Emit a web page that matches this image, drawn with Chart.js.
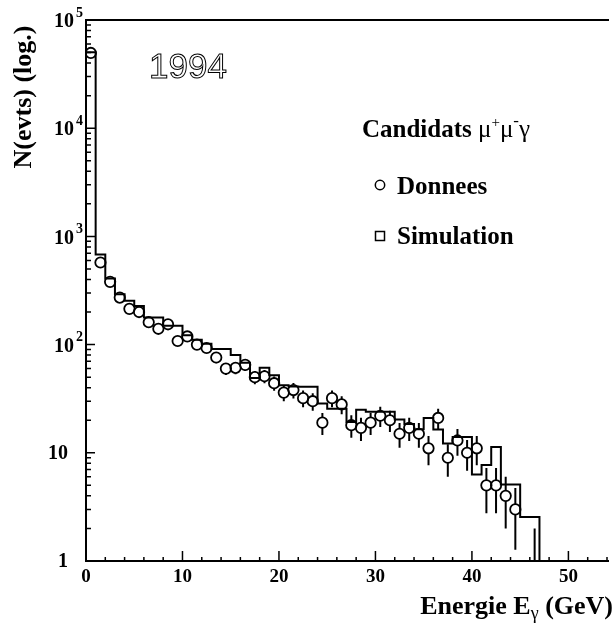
<!DOCTYPE html>
<html>
<head>
<meta charset="utf-8">
<title>Energie E_gamma - 1994</title>
<script src="https://cdn.jsdelivr.net/npm/chart.js@4.4.1/dist/chart.umd.min.js"></script>
<style>
  html, body { margin: 0; padding: 0; background: #fff; }
  #spectre { display: block; }
</style>
</head>
<body>
<canvas id="spectre" width="614" height="631"></canvas>
<script>
// Bornes basses des intervalles de 1 GeV
const binLow = [0, 1, 2, 3, 4, 5, 6, 7, 8, 9, 10, 11, 12, 13, 14, 15, 16, 17, 18, 19,
  20, 21, 22, 23, 24, 25, 26, 27, 28, 29, 30, 31, 32, 33, 34, 35, 36, 37, 38, 39,
  40, 41, 42, 43, 44, 45, 46];
const binWidth = 1;

// Nombre d'evenements par intervalle
const donnees = [49600, 574, 380, 272, 214, 200, 161, 140, 154, 108,
  119, 100, 93, 76, 60, 61, 65, 50, 51, 44,
  36, 38, 32, 30, 19, 32, 28, 18, 17, 19,
  22, 20, 15, 17, 15, 11, 21, 9, 13, 10,
  11, 5, 5, 4, 3, 0, 1];
const simulation = [50400, 680, 409, 292, 254, 227, 178, 178, 149, 149,
  122, 111, 102, 91, 91, 80, 68, 49, 61, 52,
  42, 41, 40.7, 40.7, 28.5, 25.6, 25.6, 19.3, 25, 24,
  24, 24, 20.3, 18.5, 16.5, 21, 16.4, 12.2, 14, 14,
  6.3, 7.7, 11.3, 5.1, 5.1, 2.55, 2.55];

// Graduations
const xTicks = [0, 10, 20, 30, 40, 50];
const yTicks = [1, 10, 100, 1000, 10000, 100000];
const yTickBase = ['1', '10', '10', '10', '10', '10'];
const yTickExp = ['', '', '2', '3', '4', '5'];

const X_MIN = 0, X_MAX = 54, Y_MIN = 1, Y_MAX = 1e5;
const MARKER_R = 5.2;
const SERIF = '"Liberation Serif", "Times New Roman", serif';

// Points des donnees au centre des intervalles (les intervalles vides ne sont pas tracés)
const pointsDonnees = [];
binLow.forEach((lo, i) => {
  if (donnees[i] > 0) pointsDonnees.push({ x: lo + binWidth / 2, y: donnees[i] });
});

// Histogramme de la simulation : un point par bord gauche, puis retour à zero
const pointsSimu = binLow.map((lo, i) => ({ x: lo, y: simulation[i] }));
pointsSimu.push({ x: binLow[binLow.length - 1] + binWidth, y: Y_MIN });

function markerRadius(ctx) {
  const p = ctx.raw;
  return p && p.y <= Y_MIN ? 0 : MARKER_R;
}

// Barres d'erreur statistiques (racine de N), interrompues au niveau du marqueur
const barresErreur = {
  id: 'barresErreur',
  afterDatasetsDraw(chart) {
    const { ctx, scales: { x, y } } = chart;
    ctx.save();
    ctx.strokeStyle = '#000';
    ctx.lineWidth = 2;
    ctx.beginPath();
    pointsDonnees.forEach(p => {
      const err = Math.sqrt(p.y);
      const px = x.getPixelForValue(p.x);
      const pc = y.getPixelForValue(p.y);
      const pHaut = y.getPixelForValue(p.y + err);
      const pBas = y.getPixelForValue(Math.max(p.y - err, Y_MIN));
      const r = p.y <= Y_MIN ? 0 : MARKER_R;
      if (pc - r > pHaut) { ctx.moveTo(px, pHaut); ctx.lineTo(px, pc - r); }
      if (pBas > pc + r) { ctx.moveTo(px, pc + r); ctx.lineTo(px, pBas); }
    });
    ctx.stroke();
    ctx.restore();
  }
};

// Cadre, graduations internes et etiquettes des axes
const cadre = {
  id: 'cadre',
  afterDraw(chart) {
    const { ctx, chartArea: a, scales: { x, y } } = chart;
    ctx.save();
    ctx.strokeStyle = '#000';
    ctx.fillStyle = '#000';

    ctx.lineWidth = 2;
    ctx.beginPath();
    ctx.moveTo(a.right + 2, a.top);
    ctx.lineTo(a.left, a.top);
    ctx.lineTo(a.left, a.bottom);
    ctx.lineTo(a.right + 2, a.bottom);
    ctx.stroke();

    ctx.lineWidth = 1.5;
    ctx.beginPath();
    for (let v = X_MIN; v <= X_MAX; v += 2) {
      const px = x.getPixelForValue(v);
      const len = v % 10 === 0 ? 10 : 4;
      ctx.moveTo(px, a.bottom);
      ctx.lineTo(px, a.bottom - len);
    }
    for (let k = 0; k < 5; k++) {
      for (let m = 1; m <= 9; m++) {
        const py = y.getPixelForValue(m * Math.pow(10, k));
        ctx.moveTo(a.left, py);
        ctx.lineTo(a.left + (m === 1 ? 9 : 5), py);
      }
    }
    ctx.stroke();

    // etiquettes de l'axe X
    ctx.font = 'bold 19px ' + SERIF;
    ctx.textAlign = 'center';
    ctx.textBaseline = 'alphabetic';
    xTicks.forEach(v => ctx.fillText(String(v), x.getPixelForValue(v), a.bottom + 21));

    // etiquettes de l'axe Y (puissances de 10)
    ctx.textBaseline = 'middle';
    yTicks.forEach((v, i) => {
      const py = y.getPixelForValue(v);
      ctx.font = 'bold 20px ' + SERIF;
      if (yTickExp[i] === '') {
        ctx.textAlign = 'right';
        ctx.fillText(yTickBase[i], a.left - 18, py + 1);
      } else {
        ctx.textAlign = 'right';
        ctx.fillText(yTickBase[i], a.left - 12, py + 2);
        ctx.font = 'bold 14px ' + SERIF;
        ctx.textAlign = 'left';
        ctx.fillText(yTickExp[i], a.left - 10, py - 7);
      }
    });

    // titre de l'axe Y
    ctx.save();
    ctx.translate(24, 97);
    ctx.rotate(-Math.PI / 2);
    ctx.font = 'bold 26px ' + SERIF;
    ctx.textAlign = 'center';
    ctx.textBaseline = 'middle';
    ctx.fillText('N(evts) (log.)', 0, 0);
    ctx.restore();

    // titre de l'axe X : Energie E_gamma (GeV)
    ctx.textAlign = 'left';
    ctx.textBaseline = 'alphabetic';
    const t1 = 'Energie E', t2 = '\u03b3', t3 = ' (GeV)';
    ctx.font = 'bold 26px ' + SERIF;
    const w1 = ctx.measureText(t1).width, w3 = ctx.measureText(t3).width;
    ctx.font = '18px ' + SERIF;
    const w2 = ctx.measureText(t2).width;
    let tx = 613 - (w1 + w2 + w3);
    const ty = 614;
    ctx.font = 'bold 26px ' + SERIF;
    ctx.fillText(t1, tx, ty); tx += w1;
    ctx.font = '18px ' + SERIF;
    ctx.fillText(t2, tx, ty + 5); tx += w2;
    ctx.font = 'bold 26px ' + SERIF;
    ctx.fillText(t3, tx, ty);

    // annee
    ctx.font = '35px "Liberation Sans", Arial, sans-serif';
    ctx.lineWidth = 1;
    ctx.strokeText('1994', 149, 78);

    // legende
    let lx = 362;
    const ly = 137;
    ctx.font = 'bold 25px ' + SERIF;
    ctx.fillText('Candidats ', lx, ly); lx += ctx.measureText('Candidats ').width;
    const morceaux = [
      ['\u03bc', '25px', 0], ['+', '15px', -10], ['\u03bc', '25px', 0], ['-', '17px', -11], ['\u03b3', '25px', 0]
    ];
    morceaux.forEach(([s, taille, dy]) => {
      ctx.font = taille + ' ' + SERIF;
      ctx.fillText(s, lx, ly + dy);
      lx += ctx.measureText(s).width;
    });

    ctx.lineWidth = 1.5;
    ctx.beginPath();
    ctx.arc(380, 185, 4.7, 0, Math.PI * 2);
    ctx.stroke();
    ctx.strokeRect(375.5, 231.5, 9, 9);
    ctx.font = 'bold 25px ' + SERIF;
    ctx.fillText('Donnees', 397, 194);
    ctx.fillText('Simulation', 397, 244);

    ctx.restore();
  }
};

new Chart(document.getElementById('spectre'), {
  data: {
    datasets: [
      {
        type: 'scatter',
        label: 'Donnees',
        data: pointsDonnees,
        pointStyle: 'circle',
        pointRadius: markerRadius,
        pointHoverRadius: markerRadius,
        pointBorderWidth: 1.8,
        pointBorderColor: '#000',
        pointBackgroundColor: 'rgba(0,0,0,0)',
        order: 0
      },
      {
        type: 'line',
        label: 'Simulation',
        data: pointsSimu,
        stepped: 'before',
        borderColor: '#000',
        borderWidth: 2,
        pointRadius: 0,
        fill: false,
        order: 1
      }
    ]
  },
  options: {
    responsive: false,
    animation: false,
    devicePixelRatio: 1,
    layout: { padding: { left: 86, top: 20, right: 0, bottom: 70 } },
    plugins: { legend: { display: false }, tooltip: { enabled: false } },
    scales: {
      x: { type: 'linear', min: X_MIN, max: X_MAX, display: false },
      y: { type: 'logarithmic', min: Y_MIN, max: Y_MAX, display: false }
    }
  },
  plugins: [barresErreur, cadre]
});
</script>
</body>
</html>
